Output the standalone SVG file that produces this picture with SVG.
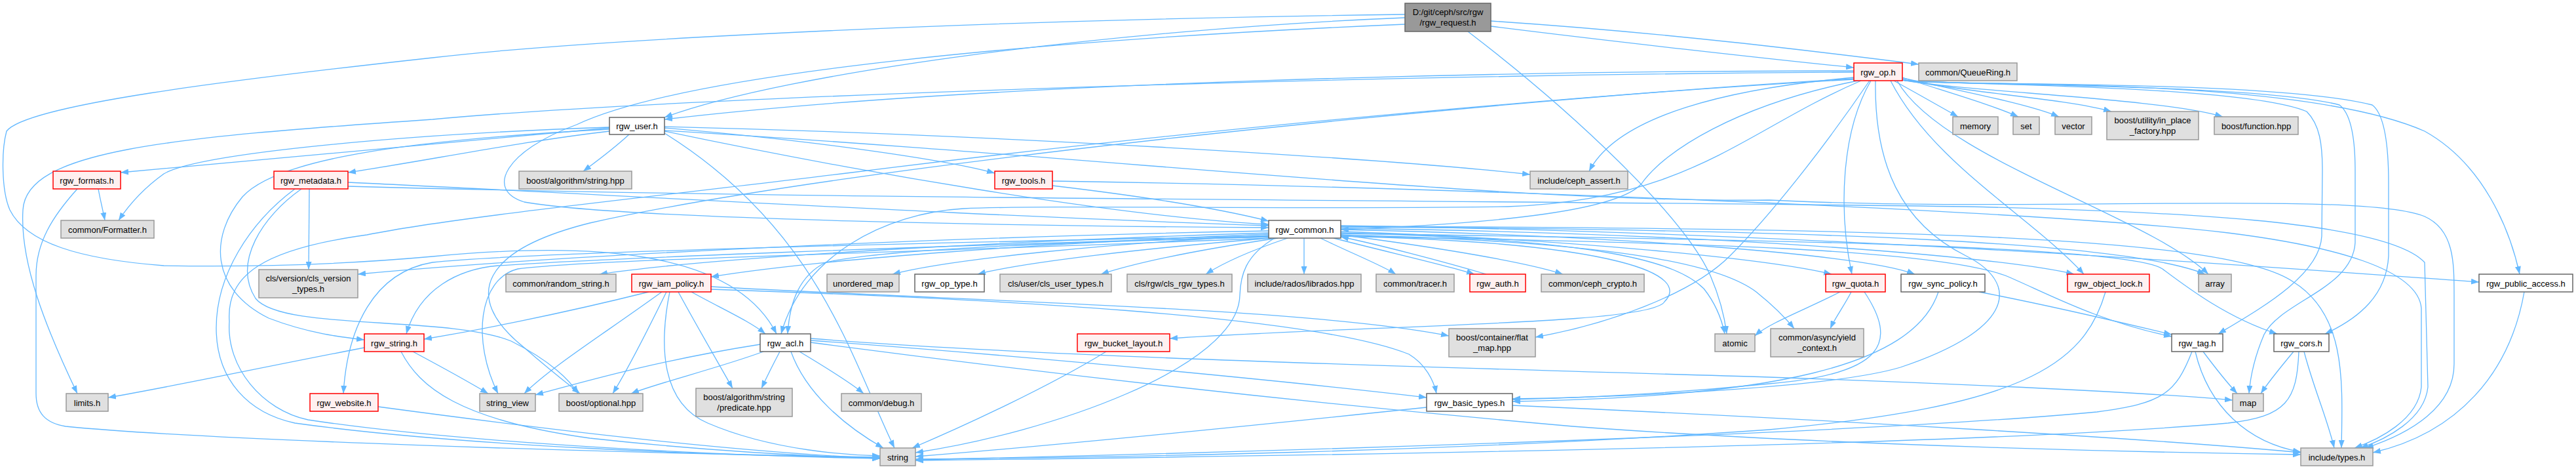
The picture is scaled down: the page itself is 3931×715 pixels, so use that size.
<svg xmlns="http://www.w3.org/2000/svg" width="3931" height="715" viewBox="0 0 3931 715">
<style>
.e path{fill:none;stroke:#63B8FF;stroke-width:1.3;marker-end:url(#ah)}
rect{stroke-width:1.5}
.g rect{fill:#E0E0E0;stroke:#999999}
.w rect{fill:#FFFFFF;stroke:#666666}
.r rect{fill:#FFF0F0;stroke:#FF0000}
.root rect{fill:#999999;stroke:#666666}
text{font-family:"Liberation Sans",Arial,sans-serif;font-size:13px;text-anchor:middle;fill:#000}
</style>
<defs>
<marker id="ah" viewBox="0 0 12 9" refX="12" refY="4.5" markerWidth="12" markerHeight="9" markerUnits="userSpaceOnUse" orient="auto"><path d="M0,0 L12,4.5 L0,9 z" fill="#63B8FF"/></marker>
</defs>
<rect x="0" y="0" width="3931" height="715" fill="#FFFFFF"/>
<g id="edges" class="e">
<path d="M2275,40 C2450,62 2700,90 2829,103"/>
<path d="M2275,32 C2550,50 2800,82 2928,98"/>
<path d="M2144,27 C1700,45 1200,110 1014,179"/>
<path d="M2144,37 C1600,60 1050,110 880,190 C770,230 740,290 800,308 C950,335 1600,345 1936,347"/>
<path d="M2144,22 C1500,30 900,60 660,88 C350,122 40,160 10,200 C2,230 2,290 15,320 C40,370 120,395 250,405 C420,408 560,400 660,391 C900,368 1120,380 1185,509"/>
<path d="M2240,48 C2400,170 2570,330 2610,420 C2625,455 2632,485 2635,509"/>
<path d="M2890,123 C2930,145 2965,165 2988,178"/>
<path d="M2903,118 C2970,140 3040,160 3080,178"/>
<path d="M2903,119 C3000,140 3100,160 3142,178"/>
<path d="M2903,121 C2990,140 3150,150 3222,170"/>
<path d="M2903,122 C3000,140 3300,150 3392,178"/>
<path d="M2829,108 C2300,108 1500,125 1014,182"/>
<path d="M2829,118 C2640,135 2470,175 2425,261"/>
<path d="M2835,123 C2650,160 2540,230 2505,280 C2470,320 2300,340 2046,350"/>
<path d="M2840,123 C2660,200 2580,305 2300,315 C2000,320 1600,312 1470,318 C1350,325 1225,390 1192,509"/>
<path d="M2829,110 C2000,115 1000,150 660,182 C250,210 40,230 35,320 C30,400 70,500 118,600"/>
<path d="M2829,121 C2400,145 1800,200 1300,263 C1000,300 700,330 560,358 C400,380 345,420 350,490 C345,560 400,625 470,640 C700,675 1100,695 1343,699"/>
<path d="M2862,123 C2860,250 2900,340 3000,390 C3080,430 3080,500 2900,560 C2800,590 2500,605 2308,608"/>
<path d="M2853,123 C2780,230 2700,330 2640,390 C2580,450 2450,495 2343,514"/>
<path d="M2855,123 C2810,200 2805,320 2826,418"/>
<path d="M2885,123 C2950,250 3100,330 3180,418"/>
<path d="M2895,123 C2960,240 3280,330 3370,418"/>
<path d="M2903,122 C2960,130 3420,128 3520,170 C3540,190 3544,220 3544,260 L3543,360 C3540,420 3450,470 3385,509"/>
<path d="M2903,122 C2960,131 3440,126 3570,160 C3590,175 3594,220 3594,260 L3594,370 C3590,440 3480,460 3455,510 C3440,545 3434,575 3432,600"/>
<path d="M2903,122 C2960,132 3460,120 3620,160 C3640,175 3645,230 3645,280 L3645,390 C3642,450 3600,485 3548,509"/>
<path d="M2903,122 C2960,134 3500,112 3700,200 C3790,250 3830,350 3845,418"/>
<path d="M2829,120 C2300,150 1300,250 900,340 C740,380 700,450 800,530 C840,565 870,588 885,600"/>
<path d="M930,195 C700,215 400,245 184,263"/>
<path d="M930,194 C600,205 300,235 250,265 C215,290 195,315 181,336"/>
<path d="M930,200 C800,215 650,245 531,263"/>
<path d="M930,197 C600,215 420,245 370,300 C320,360 320,440 410,485 C470,508 520,514 556,518"/>
<path d="M960,205 C935,228 905,250 890,261"/>
<path d="M1014,195 C1250,215 1450,245 1518,264"/>
<path d="M1014,193 C1500,205 2100,240 2335,266"/>
<path d="M1014,200 C1300,260 1700,330 1936,342"/>
<path d="M1014,199 C1700,240 2300,310 2700,305 C3100,325 3600,290 3700,330 C3745,350 3745,400 3745,450 L3745,555 C3745,620 3680,660 3610,683"/>
<path d="M1014,203 C1250,350 1300,550 1365,683"/>
<path d="M150,288 C153,305 157,320 160,336"/>
<path d="M118,288 C80,330 55,370 55,420 L55,600 C55,630 70,645 100,650 C300,670 900,690 1343,697"/>
<path d="M472,288 L471,411"/>
<path d="M450,288 C380,340 330,420 330,500 C330,580 380,630 450,645 C700,680 1100,695 1343,698"/>
<path d="M460,288 C400,330 355,400 390,455 C430,505 680,480 780,520 C840,550 870,580 882,600"/>
<path d="M531,278 C900,295 1500,330 1936,344"/>
<path d="M531,284 C1300,305 2300,305 3000,315 C3300,322 3640,335 3700,400 L3705,590 C3700,640 3640,670 3602,683"/>
<path d="M1606,283 C1750,300 1860,318 1936,337"/>
<path d="M1606,276 C2200,285 3100,320 3400,355 C3560,375 3690,410 3695,470 L3695,590 C3690,640 3630,670 3593,683"/>
<path d="M1936,352 C1500,360 900,385 546,418"/>
<path d="M1936,355 C1600,365 1100,390 915,418"/>
<path d="M1936,357 C1600,370 1250,395 1085,422"/>
<path d="M1936,359 C1700,370 1450,395 1362,418"/>
<path d="M1940,363 C1750,378 1560,400 1492,418"/>
<path d="M1950,363 C1800,385 1720,405 1680,418"/>
<path d="M1965,363 C1900,385 1860,405 1840,418"/>
<path d="M1990,363 L1990,418"/>
<path d="M2015,363 C2060,385 2110,405 2130,418"/>
<path d="M2035,363 C2120,385 2210,405 2250,418"/>
<path d="M2268,418 C2200,398 2100,372 2046,361"/>
<path d="M2046,358 C2200,378 2330,400 2385,418"/>
<path d="M2046,353 C2400,365 2700,395 2795,418"/>
<path d="M2046,350 C2500,360 2850,390 2922,418"/>
<path d="M2046,348 C2600,355 3050,390 3165,418"/>
<path d="M2046,346 C2800,350 3250,370 3365,418"/>
<path d="M2046,344 C2800,355 3500,410 3783,430"/>
<path d="M2046,360 C2600,370 2950,380 3060,420 C3120,445 3200,490 3314,513"/>
<path d="M2046,356 C2700,365 3250,375 3300,410 C3340,440 3400,485 3475,509"/>
<path d="M1936,361 C1400,375 900,395 760,405 C700,410 640,440 620,509"/>
<path d="M1936,360 C1400,370 800,385 660,400 C570,415 530,500 524,600"/>
<path d="M1936,361 C1600,370 1350,380 1260,400 C1220,420 1205,460 1202,509"/>
<path d="M2046,360 C2480,370 2580,420 2540,460 C2520,495 2100,495 1785,516"/>
<path d="M1936,363 C1400,385 900,395 790,410 C730,425 720,520 760,600"/>
<path d="M2046,355 C2450,365 2560,400 2600,440 C2620,465 2628,490 2632,509"/>
<path d="M2046,358 C2450,368 2620,400 2680,445 C2705,465 2725,485 2738,501"/>
<path d="M2046,345 C2900,348 3400,360 3500,430 C3580,480 3575,580 3573,683"/>
<path d="M1945,363 C1900,390 1893,420 1892,450 C1890,560 1600,660 1397,690"/>
<path d="M990,445 C850,480 720,505 647,517"/>
<path d="M1010,445 C920,510 840,560 800,600"/>
<path d="M1017,445 C990,500 960,560 935,600"/>
<path d="M1022,445 C1005,530 1010,615 1080,645 C1180,688 1300,694 1343,695"/>
<path d="M1035,445 C1065,500 1100,560 1118,592"/>
<path d="M1055,445 C1100,470 1145,490 1168,509"/>
<path d="M1085,441 C1500,455 2000,480 2150,540 C2175,555 2188,580 2192,600"/>
<path d="M1085,437 C1500,460 2000,470 2211,512"/>
<path d="M1160,525 C1000,550 880,585 817,602"/>
<path d="M1165,536 C1100,560 1000,585 963,600"/>
<path d="M1190,536 C1180,555 1170,575 1162,592"/>
<path d="M1220,536 C1260,560 1300,585 1318,600"/>
<path d="M1207,536 C1230,600 1290,650 1348,683"/>
<path d="M1237,516 C1600,545 2200,560 2700,575 C3000,585 3300,600 3407,610"/>
<path d="M1237,522 C1600,570 2000,615 2400,650 C2800,680 3300,690 3511,693"/>
<path d="M1237,519 C1600,545 2000,585 2177,606"/>
<path d="M556,530 C400,560 250,592 165,606"/>
<path d="M630,536 C675,560 715,582 745,600"/>
<path d="M612,536 C640,590 700,640 900,668 C1100,690 1250,696 1343,699"/>
<path d="M577,620 C800,650 1100,688 1343,699"/>
<path d="M1688,536 C1600,590 1470,650 1392,683"/>
<path d="M2177,621 C1900,650 1600,680 1397,696"/>
<path d="M2308,618 C2800,640 3300,670 3511,690"/>
<path d="M2808,445 C2760,470 2700,492 2678,512"/>
<path d="M2825,445 C2815,465 2800,485 2793,501"/>
<path d="M2845,445 C2895,520 2880,570 2700,585 C2500,605 2350,608 2308,609"/>
<path d="M2958,445 C2920,560 2700,605 2308,612"/>
<path d="M3020,445 C3150,470 3250,495 3314,510"/>
<path d="M3213,445 C3180,560 3080,620 2700,655 C2200,690 1700,697 1397,700"/>
<path d="M3362,536 C3380,560 3400,585 3414,600"/>
<path d="M3350,536 C3370,620 3430,675 3511,689"/>
<path d="M3345,536 C3320,600 3300,615 3200,628 C2800,665 1800,692 1397,701"/>
<path d="M3500,536 C3480,560 3460,585 3450,600"/>
<path d="M3516,536 C3530,590 3552,640 3562,683"/>
<path d="M3508,536 C3505,610 3490,635 3400,645 C3000,680 2000,695 1397,702"/>
<path d="M3852,445 C3830,570 3750,660 3621,690"/>
</g>
<g id="n_req" class="root"><rect x="2144" y="5" width="131" height="43"/><text x="2209.5" y="22.5">D:/git/ceph/src/rgw</text><text x="2209.5" y="38.5">/rgw_request.h</text></g>
<g id="n_op" class="r"><rect x="2829" y="96" width="74" height="27"/><text x="2866" y="114.5">rgw_op.h</text></g>
<g id="n_queuering" class="g"><rect x="2928" y="96" width="150" height="27"/><text x="3003" y="114.5">common/QueueRing.h</text></g>
<g id="n_user" class="w"><rect x="930" y="179" width="84" height="26"/><text x="972" y="197">rgw_user.h</text></g>
<g id="n_memory" class="g"><rect x="2980" y="178" width="69" height="27"/><text x="3014.5" y="196.5">memory</text></g>
<g id="n_set" class="g"><rect x="3072" y="178" width="40" height="27"/><text x="3092" y="196.5">set</text></g>
<g id="n_vector" class="g"><rect x="3136" y="178" width="56" height="27"/><text x="3164" y="196.5">vector</text></g>
<g id="n_inplace" class="g"><rect x="3215" y="170" width="140" height="43"/><text x="3285" y="187.5">boost/utility/in_place</text><text x="3285" y="203.5">_factory.hpp</text></g>
<g id="n_function" class="g"><rect x="3379" y="178" width="128" height="27"/><text x="3443" y="196.5">boost/function.hpp</text></g>
<g id="n_formats" class="r"><rect x="81" y="261" width="103" height="27"/><text x="132.5" y="279.5">rgw_formats.h</text></g>
<g id="n_metadata" class="r"><rect x="418" y="261" width="113" height="27"/><text x="474.5" y="279.5">rgw_metadata.h</text></g>
<g id="n_bstring" class="g"><rect x="792" y="261" width="172" height="27"/><text x="878" y="279.5">boost/algorithm/string.hpp</text></g>
<g id="n_tools" class="r"><rect x="1518" y="261" width="88" height="27"/><text x="1562" y="279.5">rgw_tools.h</text></g>
<g id="n_assert" class="g"><rect x="2335" y="261" width="149" height="27"/><text x="2409.5" y="279.5">include/ceph_assert.h</text></g>
<g id="n_formatter" class="g"><rect x="93" y="336" width="142" height="27"/><text x="164" y="354.5">common/Formatter.h</text></g>
<g id="n_common" class="w"><rect x="1936" y="336" width="110" height="27"/><text x="1991" y="354.5">rgw_common.h</text></g>
<g id="n_clsver" class="g"><rect x="395" y="411" width="151" height="43"/><text x="470.5" y="428.5">cls/version/cls_version</text><text x="470.5" y="444.5">_types.h</text></g>
<g id="n_random" class="g"><rect x="772" y="418" width="168" height="27"/><text x="856" y="436.5">common/random_string.h</text></g>
<g id="n_iam" class="r"><rect x="964" y="418" width="121" height="27"/><text x="1024.5" y="436.5">rgw_iam_policy.h</text></g>
<g id="n_umap" class="g"><rect x="1262" y="418" width="110" height="27"/><text x="1317" y="436.5">unordered_map</text></g>
<g id="n_optype" class="w"><rect x="1396" y="418" width="106" height="27"/><text x="1449" y="436.5">rgw_op_type.h</text></g>
<g id="n_clsuser" class="g"><rect x="1526" y="418" width="170" height="27"/><text x="1611" y="436.5">cls/user/cls_user_types.h</text></g>
<g id="n_clsrgw" class="g"><rect x="1720" y="418" width="160" height="27"/><text x="1800" y="436.5">cls/rgw/cls_rgw_types.h</text></g>
<g id="n_librados" class="g"><rect x="1904" y="418" width="173" height="27"/><text x="1990.5" y="436.5">include/rados/librados.hpp</text></g>
<g id="n_tracer" class="g"><rect x="2100" y="418" width="119" height="27"/><text x="2159.5" y="436.5">common/tracer.h</text></g>
<g id="n_auth" class="r"><rect x="2243" y="418" width="85" height="27"/><text x="2285.5" y="436.5">rgw_auth.h</text></g>
<g id="n_crypto" class="g"><rect x="2352" y="418" width="157" height="27"/><text x="2430.5" y="436.5">common/ceph_crypto.h</text></g>
<g id="n_quota" class="r"><rect x="2786" y="418" width="91" height="27"/><text x="2831.5" y="436.5">rgw_quota.h</text></g>
<g id="n_sync" class="w"><rect x="2901" y="418" width="128" height="27"/><text x="2965" y="436.5">rgw_sync_policy.h</text></g>
<g id="n_olock" class="r"><rect x="3155" y="418" width="125" height="27"/><text x="3217.5" y="436.5">rgw_object_lock.h</text></g>
<g id="n_array" class="g"><rect x="3355" y="418" width="50" height="27"/><text x="3380" y="436.5">array</text></g>
<g id="n_pubacc" class="w"><rect x="3783" y="418" width="143" height="27"/><text x="3854.5" y="436.5">rgw_public_access.h</text></g>
<g id="n_rstring" class="r"><rect x="556" y="509" width="91" height="27"/><text x="601.5" y="527.5">rgw_string.h</text></g>
<g id="n_acl" class="w"><rect x="1160" y="509" width="77" height="27"/><text x="1198.5" y="527.5">rgw_acl.h</text></g>
<g id="n_layout" class="r"><rect x="1644" y="509" width="141" height="27"/><text x="1714.5" y="527.5">rgw_bucket_layout.h</text></g>
<g id="n_flatmap" class="g"><rect x="2211" y="501" width="132" height="43"/><text x="2277" y="518.5">boost/container/flat</text><text x="2277" y="534.5">_map.hpp</text></g>
<g id="n_atomic" class="g"><rect x="2617" y="509" width="61" height="27"/><text x="2647.5" y="527.5">atomic</text></g>
<g id="n_yield" class="g"><rect x="2702" y="501" width="142" height="43"/><text x="2773" y="518.5">common/async/yield</text><text x="2773" y="534.5">_context.h</text></g>
<g id="n_tag" class="w"><rect x="3314" y="509" width="78" height="27"/><text x="3353" y="527.5">rgw_tag.h</text></g>
<g id="n_cors" class="w"><rect x="3470" y="509" width="84" height="27"/><text x="3512" y="527.5">rgw_cors.h</text></g>
<g id="n_limits" class="g"><rect x="101" y="600" width="64" height="27"/><text x="133" y="618.5">limits.h</text></g>
<g id="n_website" class="r"><rect x="473" y="600" width="104" height="27"/><text x="525" y="618.5">rgw_website.h</text></g>
<g id="n_sview" class="g"><rect x="732" y="600" width="85" height="27"/><text x="774.5" y="618.5">string_view</text></g>
<g id="n_optional" class="g"><rect x="853" y="600" width="128" height="27"/><text x="917" y="618.5">boost/optional.hpp</text></g>
<g id="n_predicate" class="g"><rect x="1062" y="592" width="147" height="43"/><text x="1135.5" y="609.5">boost/algorithm/string</text><text x="1135.5" y="625.5">/predicate.hpp</text></g>
<g id="n_debug" class="g"><rect x="1284" y="600" width="122" height="27"/><text x="1345" y="618.5">common/debug.h</text></g>
<g id="n_basic" class="w"><rect x="2177" y="600" width="131" height="27"/><text x="2242.5" y="618.5">rgw_basic_types.h</text></g>
<g id="n_map" class="g"><rect x="3407" y="600" width="47" height="27"/><text x="3430.5" y="618.5">map</text></g>
<g id="n_string" class="g"><rect x="1343" y="683" width="54" height="27"/><text x="1370" y="701.5">string</text></g>
<g id="n_types" class="g"><rect x="3511" y="683" width="110" height="27"/><text x="3566" y="701.5">include/types.h</text></g>
</svg>
